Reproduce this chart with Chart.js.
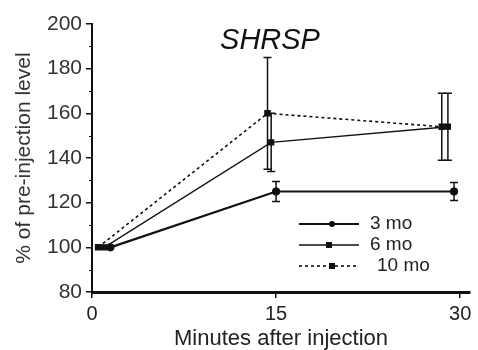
<!DOCTYPE html>
<html>
<head>
<meta charset="utf-8">
<script src="https://cdn.jsdelivr.net/npm/chart.js@4/dist/chart.umd.min.js"></script>
<style>
html,body{margin:0;padding:0;background:#fff;}
#wrap{width:478px;height:350px;}
</style>
</head>
<body>
<div id="wrap"><canvas id="c" width="478" height="350"></canvas></div>
<script>
// ---- data ----
const seriesNames = ['3 mo', '6 mo', '10 mo'];
const x3 = [1.5, 15, 29.5];
const y3 = [100, 125, 125];
const e3 = [0, 4.5, 4];
const x6 = [1, 14.6, 29];
const y6 = [100, 147, 154];
const e6 = [0, 13, 15];
const x10 = [0.5, 14.3, 28.5];
const y10 = [100, 160, 154];
const e10 = [0, 25, 15];
const xTicks = [0, 15, 30];
const yTickStep = 20;
const yMin = 80, yMax = 200;
const chartTitle = 'SHRSP';
const xTitle = 'Minutes after injection';
const yTitle = '% of pre-injection level';

const pts = (xs, ys) => xs.map((x, i) => ({x: x, y: ys[i]}));

const errPlugin = {
  id: 'errbars',
  afterDatasetsDraw(chart) {
    const ctx = chart.ctx;
    const xs = chart.scales.x, ys = chart.scales.y;
    chart.data.datasets.forEach(ds => {
      ds.data.forEach((p, i) => {
        const e = ds.errors[i];
        if (!e) return;
        const px = xs.getPixelForValue(p.x);
        const t = ys.getPixelForValue(p.y + e);
        const b = ys.getPixelForValue(p.y - e);
        ctx.save();
        ctx.strokeStyle = '#111';
        ctx.lineWidth = 1.5;
        ctx.setLineDash([]);
        ctx.beginPath();
        ctx.moveTo(px, t); ctx.lineTo(px, b);
        ctx.moveTo(px - 4, t); ctx.lineTo(px + 4, t);
        ctx.moveTo(px - 4, b); ctx.lineTo(px + 4, b);
        ctx.stroke();
        ctx.restore();
      });
    });
  }
};

const decoPlugin = {
  id: 'deco',
  afterDraw(chart) {
    const ctx = chart.ctx;
    const ys = chart.scales.y;
    const ca = chart.chartArea;
    ctx.save();
    // minor y ticks
    ctx.strokeStyle = '#111';
    ctx.lineWidth = 1;
    for (let v = yMin + 10; v < yMax; v += yTickStep) {
      const py = Math.round(ys.getPixelForValue(v)) + 0.5;
      ctx.beginPath();
      ctx.moveTo(ca.left - 3, py); ctx.lineTo(ca.left, py);
      ctx.stroke();
    }
    // title
    ctx.fillStyle = '#111';
    ctx.font = 'italic 29px "Liberation Sans", Arial, sans-serif';
    ctx.textAlign = 'center';
    ctx.textBaseline = 'middle';
    ctx.fillText(chartTitle, 270, 41);
    // legend
    const rows = [224, 245, 266];
    chart.data.datasets.forEach((ds, i) => {
      const y = rows[i];
      ctx.strokeStyle = '#111';
      ctx.lineWidth = ds.borderWidth;
      ctx.setLineDash(ds.borderDash || []);
      ctx.beginPath();
      ctx.moveTo(299, y); ctx.lineTo(359, y);
      ctx.stroke();
      ctx.setLineDash([]);
      ctx.fillStyle = '#111';
      const mx = i === 1 ? 329 : 332;
      if (ds.pointStyle === 'circle') {
        ctx.beginPath(); ctx.arc(mx, y, 3, 0, Math.PI * 2); ctx.fill();
      } else {
        ctx.fillRect(mx - 3, y - 3, 6, 6);
      }
      ctx.font = '19px "Liberation Sans", Arial, sans-serif';
      ctx.textAlign = 'left';
      ctx.fillStyle = '#222';
      ctx.fillText(ds.label, i === 2 ? 377 : 370, y);
    });
    ctx.restore();
  }
};

new Chart(document.getElementById('c'), {
  type: 'line',
  data: {
    datasets: [
      {label: seriesNames[0], data: pts(x3, y3), errors: e3, borderColor: '#111', backgroundColor: '#111',
       borderWidth: 2.2, pointStyle: 'circle', pointRadius: 3, tension: 0},
      {label: seriesNames[1], data: pts(x6, y6), errors: e6, borderColor: '#111', backgroundColor: '#111',
       borderWidth: 1.3, pointStyle: 'rect', pointRadius: 3.5, tension: 0},
      {label: seriesNames[2], data: pts(x10, y10), errors: e10, borderColor: '#111', backgroundColor: '#111',
       borderWidth: 1.6, borderDash: [3, 3], pointStyle: 'rect', pointRadius: 3.5, tension: 0}
    ]
  },
  options: {
    responsive: false,
    animation: false,
    layout: {padding: {top: 24, right: 8, left: 0, bottom: 0}},
    plugins: {legend: {display: false}, tooltip: {enabled: false}},
    scales: {
      x: {
        type: 'linear',
        min: 0,
        max: 30.8,
        afterBuildTicks: s => { s.ticks = xTicks.map(v => ({value: v})); },
        afterFit: s => { s.height = 58; },
        grid: {drawOnChartArea: false, color: '#111', tickLength: 6, lineWidth: 1.5},
        border: {color: '#111', width: 3},
        ticks: {color: '#222', padding: 4, font: {size: 20, family: '"Liberation Sans", Arial, sans-serif'},
                callback: v => String(v)},
        title: {display: true, text: xTitle, color: '#222', padding: {top: 0, bottom: 0},
                font: {size: 22, lineHeight: 1, family: '"Liberation Sans", Arial, sans-serif'}}
      },
      y: {
        min: yMin,
        max: yMax,
        ticks: {stepSize: yTickStep, color: '#333', padding: 4,
                font: {size: 21, family: '"Liberation Sans", Arial, sans-serif'}},
        afterFit: s => { s.width = 92; },
        grid: {drawOnChartArea: false, color: '#111', tickLength: 6, lineWidth: 1.5},
        border: {color: '#111', width: 2},
        title: {display: true, text: yTitle, color: '#333', padding: {top: 12, bottom: 0},
                font: {size: 21, family: '"Liberation Sans", Arial, sans-serif'}}
      }
    }
  },
  plugins: [errPlugin, decoPlugin]
});
</script>
</body>
</html>
